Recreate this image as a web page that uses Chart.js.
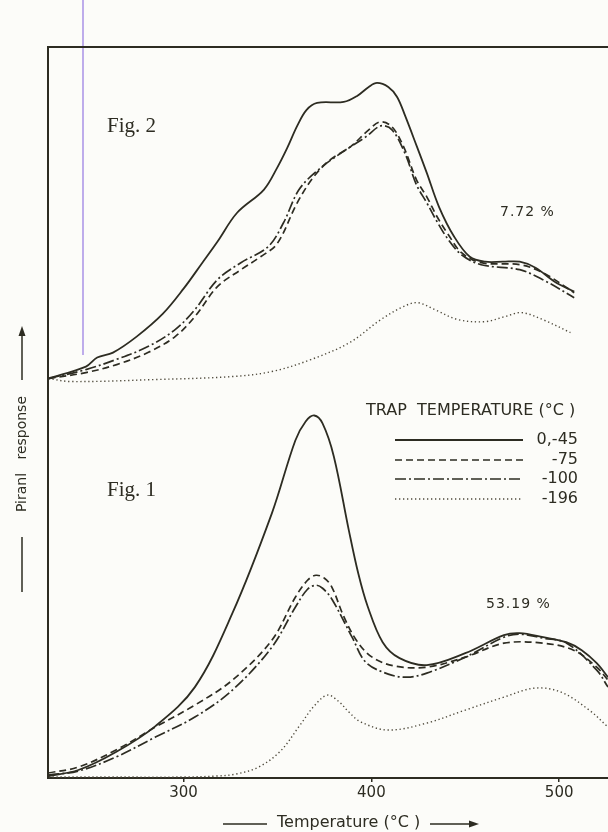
<!DOCTYPE html>
<html lang="en">
<head>
    <meta charset="UTF-8">
    <title>Piranl response vs temperature</title>
    <script src="https://cdn.jsdelivr.net/npm/chart.js"></script>
    <style>
        html, body {
            margin: 0;
            padding: 0;
            background-color: #fcfcf9;
            overflow: hidden;
        }
        #wrap {
            width: 608px;
            height: 832px;
        }
    </style>
</head>
<body>
    <div id="wrap"><canvas id="chart" width="608" height="832"></canvas></div>

    <script>
        // x range of the plot (°C) and the tick labels
        const tempMin = 227.8;
        const tempMax = 526;
        const tempTicks = [300, 400, 500];

        // Fig. 1 (lower trace, baseline at the x axis)
        const fig1SolidT = [228, 244, 264, 285, 306, 326, 347, 359.5, 365, 369.6, 374, 380, 388, 393, 398, 406, 415, 429.5, 450, 470.6, 479, 491.5, 503.8, 512, 520, 526];
        const fig1SolidV = [2, 8, 26, 52, 91, 165, 265, 338, 357, 363, 355, 322, 248, 205, 172, 136, 120, 113, 125, 143, 145, 141, 136, 128, 115, 101];
        const fig1DashT = [228, 244, 264, 285, 306, 326, 347, 359.5, 366, 370.5, 375, 379, 385, 392, 400.4, 412.7, 429.5, 450, 470.6, 491.5, 507.7, 520, 526];
        const fig1DashV = [5, 11, 28, 51, 73, 98, 138, 181, 198, 203, 200, 191, 163, 138, 121, 112, 111, 121, 135, 135, 128, 111, 98];
        const fig1DashDotT = [228, 244, 264, 285, 306, 326, 347, 359.5, 366, 370.5, 374, 379, 390, 397, 409, 419, 429.5, 450, 470.6, 479, 491.5, 504, 520, 526];
        const fig1DashDotV = [3, 7, 21, 41, 61, 88, 131, 171, 189, 193, 190, 179, 140, 116, 104, 101, 105, 121, 141, 144, 140, 135, 108, 91];
        const fig1DotT = [228, 260, 300, 318, 328, 340, 351.6, 362, 369.5, 376.6, 383, 388, 394.5, 409, 429.5, 450, 470.6, 487, 501, 516, 526];
        const fig1DotV = [1, 1, 1, 2, 4, 11, 27, 53, 72, 83, 76, 66, 56, 48, 55, 68, 81, 90, 86, 68, 51];

        // Fig. 2 (upper trace, own baseline)
        const fig2SolidT = [228, 248, 254, 262.4, 275, 289, 300, 310, 318, 328.5, 342.7, 349.8, 355.2, 360.5, 365.5, 371.1, 385.3, 392.4, 398.6, 403, 409, 413.7, 418, 424.3, 429.5, 436, 444.1, 452.4, 460.6, 470, 479, 487.4, 497.6, 508];
        const fig2SolidV = [1, 13, 22, 27, 43, 66, 91, 117, 138, 167, 190, 212, 232, 254, 270, 277, 278, 284, 293, 297, 293, 283, 264, 233, 207, 173, 143, 123, 118, 118, 118, 112, 98, 88];
        const fig2DashT = [228, 248, 264.4, 281, 295.5, 306, 318, 330.5, 341, 349.8, 360.5, 369.3, 378, 388.8, 398.6, 404.8, 411, 417.2, 424, 429.5, 435, 441, 448, 458.4, 479, 491.3, 508];
        const fig2DashV = [1, 7, 15, 27, 43, 63, 93, 110, 123, 136, 177, 203, 220, 233, 250, 258, 253, 233, 200, 183, 163, 145, 127, 117, 115, 107, 87];
        const fig2DashDotT = [228, 248, 264, 281, 295.5, 306, 318, 330.5, 345, 353.2, 361.4, 371.7, 384, 397, 405, 411, 418, 424, 429.5, 435, 441, 448, 458.4, 479, 491.3, 508];
        const fig2DashDotV = [1, 10, 20, 33, 50, 70, 100, 117, 133, 157, 190, 210, 227, 243, 254, 250, 226, 195, 177, 158, 140, 125, 115, 110, 100, 82];
        const fig2DotT = [228, 240, 285, 326, 347, 367.8, 388.4, 405, 417, 424.5, 433.8, 446.2, 460.6, 471, 480, 491.3, 506];
        const fig2DotV = [1, -2, 0, 3, 8, 20, 37, 60, 73, 77, 70, 60, 58, 63, 67, 60, 47];

        const legendTitle = 'TRAP  TEMPERATURE (°C )';
        const legendLabels = ['0,-45', '-75', '-100', '-196'];

        const ink = '#2d2c22';
        const dotInk = '#4f4a3c';
        const sans = '"DejaVu Sans", sans-serif';
        const serif = '"Liberation Serif", "DejaVu Serif", serif';

        const styles = [
            { borderColor: ink, borderWidth: 1.8, borderDash: [] },
            { borderColor: ink, borderWidth: 1.7, borderDash: [7, 4] },
            { borderColor: ink, borderWidth: 1.7, borderDash: [11, 3, 2, 3] },
            { borderColor: dotInk, borderWidth: 1.4, borderDash: [1.3, 2.7] }
        ];

        function pts(ts, vs) {
            return ts.map((t, i) => ({ x: t, y: vs[i] }));
        }

        function makeSet(label, ts, vs, style, axis) {
            return Object.assign({
                label: label,
                data: pts(ts, vs),
                yAxisID: axis,
                pointRadius: 0,
                fill: false,
                tension: 0.35
            }, style);
        }

        const datasets = [
            makeSet(legendLabels[0], fig1SolidT, fig1SolidV, styles[0], 'y'),
            makeSet(legendLabels[1], fig1DashT, fig1DashV, styles[1], 'y'),
            makeSet(legendLabels[2], fig1DashDotT, fig1DashDotV, styles[2], 'y'),
            makeSet(legendLabels[3], fig1DotT, fig1DotV, styles[3], 'y'),
            makeSet(legendLabels[0], fig2SolidT, fig2SolidV, styles[0], 'y2'),
            makeSet(legendLabels[1], fig2DashT, fig2DashV, styles[1], 'y2'),
            makeSet(legendLabels[2], fig2DashDotT, fig2DashDotV, styles[2], 'y2'),
            makeSet(legendLabels[3], fig2DotT, fig2DotV, styles[3], 'y2')
        ];

        // frame, legend, captions and axis titles
        const decor = {
            id: 'decor',
            afterDraw(chart) {
                const ctx = chart.ctx;
                const a = chart.chartArea;
                ctx.save();

                // scan mark
                ctx.strokeStyle = '#9d82e4';
                ctx.lineWidth = 1.3;
                ctx.beginPath();
                ctx.moveTo(83, 0);
                ctx.lineTo(83, 355);
                ctx.stroke();

                // left and top frame
                ctx.strokeStyle = ink;
                ctx.lineWidth = 2;
                ctx.beginPath();
                ctx.moveTo(a.left, a.bottom);
                ctx.lineTo(a.left, a.top);
                ctx.lineTo(a.right, a.top);
                ctx.stroke();

                // figure captions
                ctx.fillStyle = ink;
                ctx.textBaseline = 'middle';
                ctx.textAlign = 'left';
                ctx.font = '21px ' + serif;
                ctx.fillText('Fig. 2', 107, 126);
                ctx.fillText('Fig. 1', 107, 490);

                ctx.font = '14px ' + sans;
                ctx.letterSpacing = '1px';
                ctx.fillText('7.72 %', 500, 212);
                ctx.fillText('53.19 %', 486, 604);
                ctx.letterSpacing = '0px';

                // legend
                ctx.font = '16px ' + sans;
                ctx.fillText(legendTitle, 366, 411);
                const rows = [440, 460, 479, 499];
                ctx.textAlign = 'right';
                for (let i = 0; i < 4; i++) {
                    const s = styles[i];
                    ctx.strokeStyle = s.borderColor;
                    ctx.lineWidth = s.borderWidth;
                    ctx.setLineDash(s.borderDash);
                    ctx.beginPath();
                    ctx.moveTo(395, rows[i]);
                    ctx.lineTo(523, rows[i]);
                    ctx.stroke();
                    ctx.fillText(legendLabels[i], 578, rows[i]);
                }
                ctx.setLineDash([]);

                // y title with arrow
                ctx.strokeStyle = ink;
                ctx.lineWidth = 1.5;
                ctx.beginPath();
                ctx.moveTo(22, 592);
                ctx.lineTo(22, 537);
                ctx.moveTo(22, 380);
                ctx.lineTo(22, 332);
                ctx.stroke();
                ctx.beginPath();
                ctx.moveTo(22, 326);
                ctx.lineTo(18.5, 336);
                ctx.lineTo(25.5, 336);
                ctx.closePath();
                ctx.fill();
                ctx.save();
                ctx.translate(22, 454);
                ctx.rotate(-Math.PI / 2);
                ctx.textAlign = 'center';
                ctx.font = '14px ' + sans;
                ctx.fillText('Piranl   response', 0, 0);
                ctx.restore();

                // x title with arrow
                ctx.textAlign = 'left';
                ctx.font = '16px ' + sans;
                ctx.fillText('Temperature (°C )', 277, 823);
                ctx.beginPath();
                ctx.moveTo(223, 824);
                ctx.lineTo(267, 824);
                ctx.moveTo(430, 824);
                ctx.lineTo(472, 824);
                ctx.stroke();
                ctx.beginPath();
                ctx.moveTo(479, 824);
                ctx.lineTo(469, 820.5);
                ctx.lineTo(469, 827.5);
                ctx.closePath();
                ctx.fill();

                ctx.restore();
            }
        };

        new Chart(document.getElementById('chart'), {
            type: 'line',
            data: { datasets: datasets },
            options: {
                responsive: false,
                animation: false,
                devicePixelRatio: 1,
                layout: { padding: { left: 48, top: 47, right: 0, bottom: 28 } },
                plugins: {
                    legend: { display: false },
                    tooltip: { enabled: false }
                },
                scales: {
                    x: {
                        type: 'linear',
                        min: tempMin,
                        max: tempMax,
                        afterBuildTicks: (axis) => {
                            axis.ticks = tempTicks.map(v => ({ value: v }));
                        },
                        border: { display: true, color: ink, width: 2 },
                        grid: { drawOnChartArea: false, drawTicks: true, tickLength: 4, color: ink, lineWidth: 1.5 },
                        ticks: {
                            color: ink,
                            padding: 2,
                            maxRotation: 0,
                            autoSkip: false,
                            font: { family: sans, size: 15 }
                        }
                    },
                    y: { display: false, min: 0, max: 732 },
                    y2: { display: false, min: -399, max: 333 }
                }
            },
            plugins: [decor]
        });
    </script>
</body>
</html>
